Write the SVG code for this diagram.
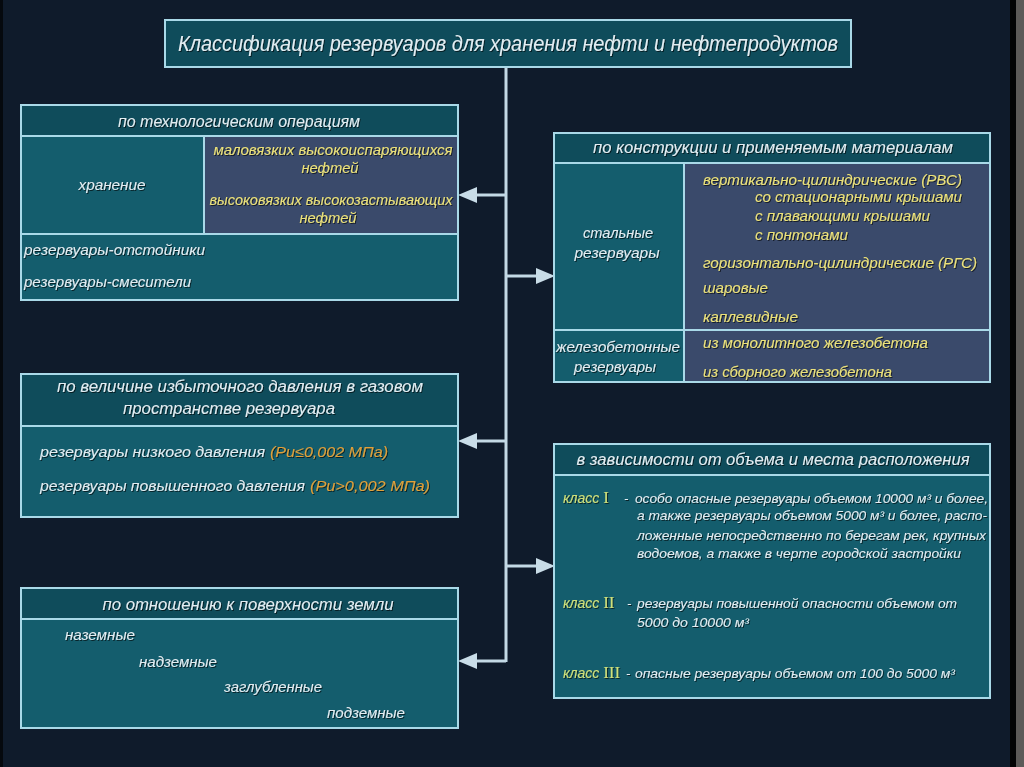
<svg xmlns="http://www.w3.org/2000/svg" width="1024" height="767" viewBox="0 0 1024 767">
<defs>
<filter id="sh" x="-5%" y="-30%" width="110%" height="160%">
<feDropShadow dx="1" dy="1" stdDeviation="0.6" flood-color="#000000" flood-opacity="0.6"/>
</filter>
<style>
.box{fill:#145d6d;stroke:#a9d9e8;stroke-width:2}
.hdr{fill:#0f4c5b;stroke:#a9d9e8;stroke-width:2}
.pur{fill:#3a4a6b;stroke:#a9d9e8;stroke-width:2}
.sep{stroke:#a9d9e8;stroke-width:2}
.t{font-family:"Liberation Sans",Arial,sans-serif;font-style:italic;font-size:15px;fill:#e2edf2;filter:url(#sh)}
.h{font-size:16px}
.y{fill:#ece27a}
.o{fill:#e0a03a}
.s{font-size:13px}
.c{fill:#cfe07a;font-size:14px}
.rm{font-family:"Liberation Serif","Times New Roman",serif;font-style:normal;font-size:17px}
.conn{stroke:#c3d9e5;stroke-width:3;fill:none}
.ah{fill:#c9dde8}
</style>
</defs>
<rect x="0" y="0" width="1024" height="767" fill="#0f1b2b"/>
<rect x="0" y="0" width="3" height="767" fill="#05090e"/>
<rect x="1010" y="0" width="6" height="767" fill="#020304"/>
<rect x="1016" y="0" width="8" height="767" fill="#5c5a58"/>

<g id="connectors">
<line class="conn" x1="506" y1="67" x2="506" y2="662"/>
<line class="conn" x1="474" y1="195" x2="506" y2="195"/>
<polygon class="ah" points="458,195 477,187 477,203"/>
<line class="conn" x1="506" y1="276" x2="538" y2="276"/>
<polygon class="ah" points="555,276 536,268 536,284"/>
<line class="conn" x1="474" y1="441" x2="506" y2="441"/>
<polygon class="ah" points="458,441 477,433 477,449"/>
<line class="conn" x1="506" y1="566" x2="538" y2="566"/>
<polygon class="ah" points="555,566 536,558 536,574"/>
<line class="conn" x1="474" y1="661" x2="506" y2="661"/>
<polygon class="ah" points="458,661 477,653 477,669"/>
</g>

<g id="title">
<rect class="hdr" x="165" y="20" width="686" height="47"/>
<text class="t" x="508" y="51" text-anchor="middle" style="font-size:22px" textLength="660" lengthAdjust="spacingAndGlyphs">Классификация резервуаров для хранения нефти и нефтепродуктов</text>
</g>

<g id="tech">
<rect class="box" x="21" y="105" width="437" height="195"/>
<rect class="hdr" x="21" y="105" width="437" height="31"/>
<rect class="pur" x="204" y="136" width="254" height="98"/>
<line class="sep" x1="21" y1="234" x2="458" y2="234"/>
<text class="t h" x="239" y="127" text-anchor="middle" textLength="242" lengthAdjust="spacingAndGlyphs">по технологическим операциям</text>
<text class="t" x="112" y="190" text-anchor="middle" textLength="67" lengthAdjust="spacingAndGlyphs">хранение</text>
<text class="t y" x="333" y="155" text-anchor="middle" textLength="239" lengthAdjust="spacingAndGlyphs">маловязких высокоиспаряющихся</text>
<text class="t y" x="330" y="173" text-anchor="middle" textLength="57" lengthAdjust="spacingAndGlyphs">нефтей</text>
<text class="t y" x="331" y="205" text-anchor="middle" textLength="243" lengthAdjust="spacingAndGlyphs">высоковязких высокозастывающих</text>
<text class="t y" x="328" y="223" text-anchor="middle" textLength="57" lengthAdjust="spacingAndGlyphs">нефтей</text>
<text class="t" x="24" y="255" textLength="181" lengthAdjust="spacingAndGlyphs">резервуары-отстойники</text>
<text class="t" x="24" y="287" textLength="167" lengthAdjust="spacingAndGlyphs">резервуары-смесители</text>
</g>

<g id="pressure">
<rect class="box" x="21" y="374" width="437" height="143"/>
<rect class="hdr" x="21" y="374" width="437" height="52"/>
<text class="t h" x="240" y="392" text-anchor="middle" textLength="366" lengthAdjust="spacingAndGlyphs">по величине избыточного давления в газовом</text>
<text class="t h" x="229" y="414" text-anchor="middle" textLength="212" lengthAdjust="spacingAndGlyphs">пространстве резервуара</text>
<text class="t" x="40" y="457" textLength="225" lengthAdjust="spacingAndGlyphs">резервуары низкого давления</text>
<text class="t o" x="270" y="457" textLength="118" lengthAdjust="spacingAndGlyphs">(Ри≤0,002 МПа)</text>
<text class="t" x="40" y="491" textLength="265" lengthAdjust="spacingAndGlyphs">резервуары повышенного давления</text>
<text class="t o" x="310" y="491" textLength="120" lengthAdjust="spacingAndGlyphs">(Ри&gt;0,002 МПа)</text>
</g>

<g id="surface">
<rect class="box" x="21" y="588" width="437" height="140"/>
<rect class="hdr" x="21" y="588" width="437" height="31"/>
<text class="t h" x="248" y="610" text-anchor="middle" textLength="291" lengthAdjust="spacingAndGlyphs">по отношению к поверхности земли</text>
<text class="t" x="65" y="640" textLength="70" lengthAdjust="spacingAndGlyphs">наземные</text>
<text class="t" x="139" y="667" textLength="78" lengthAdjust="spacingAndGlyphs">надземные</text>
<text class="t" x="224" y="692" textLength="98" lengthAdjust="spacingAndGlyphs">заглубленные</text>
<text class="t" x="327" y="718" textLength="78" lengthAdjust="spacingAndGlyphs">подземные</text>
</g>

<g id="construction">
<rect class="box" x="554" y="133" width="436" height="249"/>
<rect class="hdr" x="554" y="133" width="436" height="30"/>
<rect class="pur" x="684" y="163" width="306" height="167"/>
<rect class="pur" x="684" y="330" width="306" height="52"/>
<line class="sep" x1="554" y1="330" x2="684" y2="330"/>
<text class="t h" x="773" y="153" text-anchor="middle" textLength="360" lengthAdjust="spacingAndGlyphs">по конструкции и применяемым материалам</text>
<text class="t" x="618" y="238" text-anchor="middle" textLength="70" lengthAdjust="spacingAndGlyphs">стальные</text>
<text class="t" x="617" y="258" text-anchor="middle" textLength="85" lengthAdjust="spacingAndGlyphs">резервуары</text>
<text class="t" x="618" y="352" text-anchor="middle" textLength="124" lengthAdjust="spacingAndGlyphs">железобетонные</text>
<text class="t" x="615" y="372" text-anchor="middle" textLength="82" lengthAdjust="spacingAndGlyphs">резервуары</text>
<text class="t y" x="703" y="185" textLength="259" lengthAdjust="spacingAndGlyphs">вертикально-цилиндрические (РВС)</text>
<text class="t y" x="755" y="202" textLength="207" lengthAdjust="spacingAndGlyphs">со стационарными крышами</text>
<text class="t y" x="755" y="221" textLength="175" lengthAdjust="spacingAndGlyphs">с плавающими крышами</text>
<text class="t y" x="755" y="240" textLength="93" lengthAdjust="spacingAndGlyphs">с понтонами</text>
<text class="t y" x="703" y="268" textLength="274" lengthAdjust="spacingAndGlyphs">горизонтально-цилиндрические (РГС)</text>
<text class="t y" x="703" y="293" textLength="65" lengthAdjust="spacingAndGlyphs">шаровые</text>
<text class="t y" x="703" y="322" textLength="95" lengthAdjust="spacingAndGlyphs">каплевидные</text>
<text class="t y" x="703" y="348" textLength="225" lengthAdjust="spacingAndGlyphs">из монолитного железобетона</text>
<text class="t y" x="703" y="377" textLength="189" lengthAdjust="spacingAndGlyphs">из сборного железобетона</text>
</g>

<g id="volume">
<rect class="box" x="554" y="444" width="436" height="254"/>
<rect class="hdr" x="554" y="444" width="436" height="31"/>
<text class="t h" x="773" y="465" text-anchor="middle" textLength="393" lengthAdjust="spacingAndGlyphs">в зависимости от объема и места расположения</text>
<text class="t c" x="563" y="503">класс <tspan class="rm">I</tspan></text>
<text class="t s" x="624" y="503">-</text>
<text class="t s" x="635" y="503" textLength="353" lengthAdjust="spacingAndGlyphs">особо опасные резервуары объемом 10000 м³ и более,</text>
<text class="t s" x="637" y="520" textLength="350" lengthAdjust="spacingAndGlyphs">а также резервуары объемом 5000 м³ и более, распо-</text>
<text class="t s" x="637" y="540" textLength="349" lengthAdjust="spacingAndGlyphs">ложенные непосредственно по берегам рек, крупных</text>
<text class="t s" x="637" y="558" textLength="324" lengthAdjust="spacingAndGlyphs">водоемов, а также в черте городской застройки</text>
<text class="t c" x="563" y="608">класс <tspan class="rm">II</tspan></text>
<text class="t s" x="627" y="608">-</text>
<text class="t s" x="637" y="608" textLength="320" lengthAdjust="spacingAndGlyphs">резервуары повышенной опасности объемом от</text>
<text class="t s" x="637" y="627" textLength="112" lengthAdjust="spacingAndGlyphs">5000 до 10000 м³</text>
<text class="t c" x="563" y="678">класс <tspan class="rm">III</tspan></text>
<text class="t s" x="626" y="678">-</text>
<text class="t s" x="635" y="678" textLength="320" lengthAdjust="spacingAndGlyphs">опасные резервуары объемом от 100 до 5000 м³</text>
</g>
</svg>
